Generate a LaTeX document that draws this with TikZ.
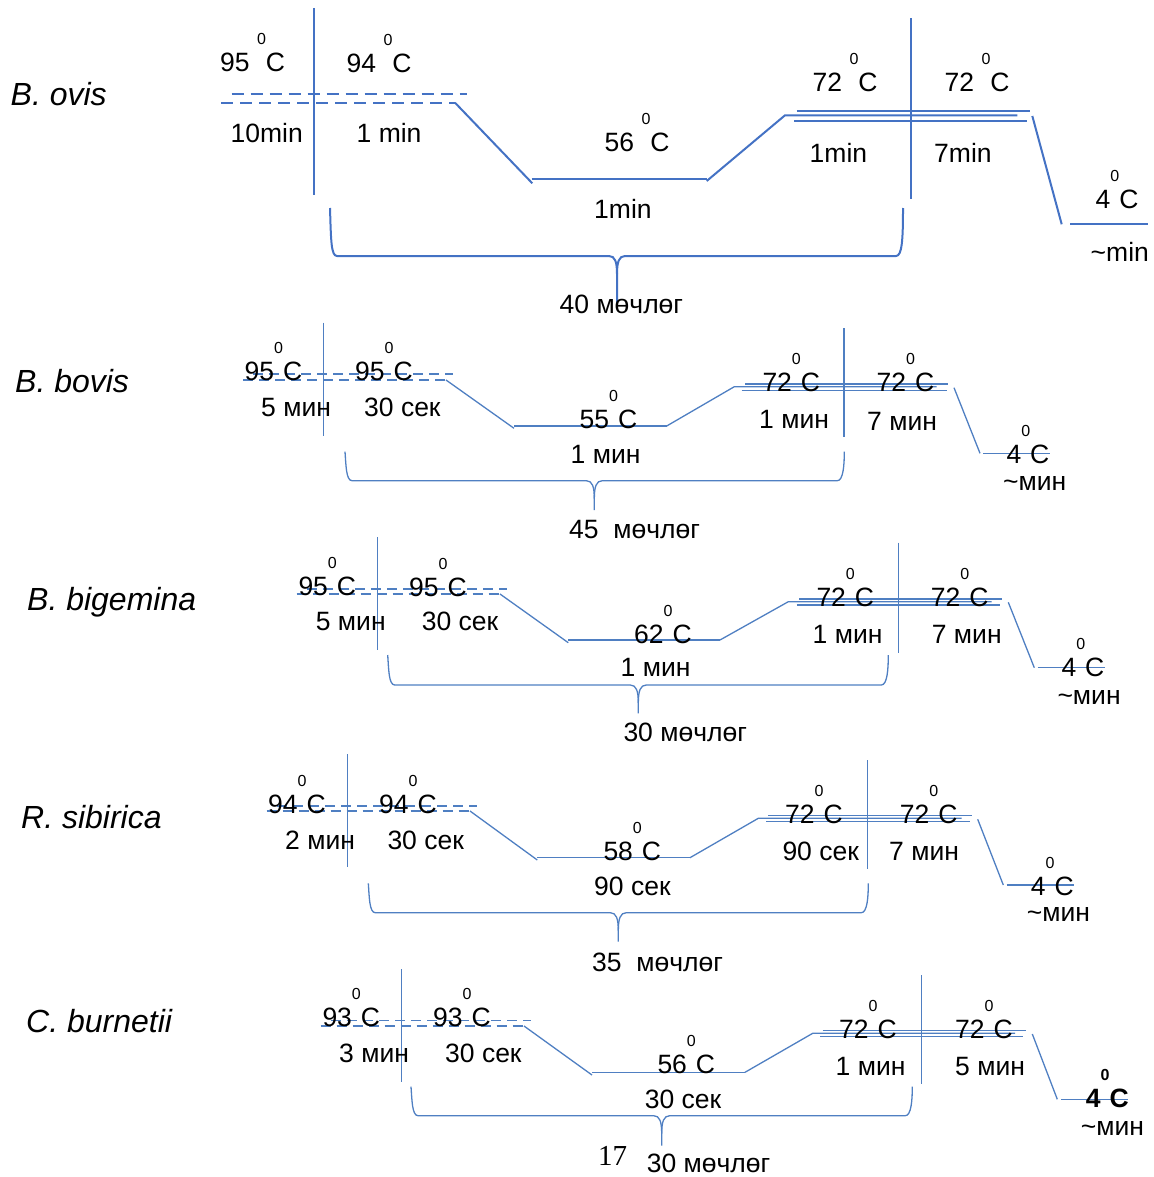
\documentclass[tikz,border=0pt]{standalone}
\usepackage{fontspec}
\setmainfont{Liberation Sans}
\newfontfamily\serifnum{Liberation Serif}
\definecolor{lineA}{HTML}{4472C4}
\definecolor{lineB}{HTML}{4F7FC2}
\newcommand\fs{\fontsize{26.5}{26.5}\selectfont}
\newcommand\spf{\fontsize{32}{32}\selectfont\itshape}
\newcommand\dg{\raisebox{27pt}{\fontsize{16}{16}\selectfont 0}}
\newcommand\tld{\char"7E}
\newcommand\mybrace[6]{%
  \draw (#1,#3) .. controls (#1+1,#4-16) and (#1+1,#4) .. (#1+7,#4) -- (#5-8,#4)
     .. controls (#5-2,#4) and (#5,#4+6) .. (#5,#4+18) -- (#5,#6);
  \draw (#5,#4+18) .. controls (#5,#4+6) and (#5+2,#4) .. (#5+8,#4) -- (#2-7,#4)
     .. controls (#2-1,#4) and (#2,#4-16) .. (#2,#3);}
\tikzset{
  lab/.style={anchor=base west, inner sep=0pt, font=\fs},
  spc/.style={anchor=base west, inner sep=0pt, font=\spf},
  pA/.style={draw=lineA, line width=2pt},
  pB/.style={draw=lineB, line width=1.3pt},
  dA/.style={dash pattern=on 12pt off 7pt},
  dB/.style={dash pattern=on 10pt off 6pt},
}
\begin{document}
\begin{tikzpicture}[x=1pt,y=-1pt]
\useasboundingbox (0,0) rectangle (1153,1177);

% ===== Panel 1: B. ovis =====
\begin{scope}[pA]
\draw (314,8) -- (314,195);
\draw[dA] (231.7,94.3) -- (466.7,94.3);
\draw[dA] (221,102.7) -- (455,102.7);
\draw (455,102.7) -- (532.3,183.3);
\draw (531.7,179.3) -- (706.7,179.3);
\draw (706.7,181) -- (785,115.3) -- (1017.3,115.3);
\draw (796.7,110.7) -- (1030,110.7);
\draw (794,120.7) -- (1027.3,120.7);
\draw (910.7,18.3) -- (910.7,199);
\draw (1032.3,116) -- (1061.7,224.3);
\draw (1070,224) -- (1148,224);
\mybrace{330}{903}{208}{256}{617}{303}
\end{scope}
\node[spc] (s1) at (10.5,106) {B. ovis};
\node[lab] (a1) at (220,72) {95\ \dg C};
\node[lab] (a2) at (346.5,72.7) {94\ \dg C};
\node[lab] (a3) at (230.5,142.7) {10min};
\node[lab] (a4) at (356.5,142.7) {1 min};
\node[lab] (a5) at (604.5,151.7) {56\ \dg C};
\node[lab] (a6) at (594,218.3) {1min};
\node[lab] (a7) at (559.5,313.3) {40 мөчлөг};
\node[lab] (a8) at (812.5,91.7) {72\ \dg C};
\node[lab] (a9) at (944.5,91.7) {72\ \dg C};
\node[lab] (a10) at (809.5,162.3) {1min};
\node[lab] (a11) at (934,162.3) {7min};
\node[lab] (a12) at (1095.5,208.3) {4\dg C};
\node[lab] (a13) at (1090.5,261.7) {\tld min};

% ===== Panel 2: B. bovis =====
\begin{scope}[pB]
\draw (323.7,322.7) -- (323.7,435.7);
\draw[dB] (253,374) -- (453.3,374);
\draw[dB] (243.3,380) -- (446,380);
\draw (446,380) -- (514,428.3);
\draw (514,426) -- (666.7,426);
\draw (666.7,426) -- (734.3,386.7) -- (936.7,386.7);
\draw (745,384) -- (948.3,384);
\draw (741.7,390.3) -- (946.7,390.3);
\draw (844,328.3) -- (844,437.3);
\draw (954,387.7) -- (980,453.3);
\draw (983.3,453.3) -- (1050,453.3);
\mybrace{345}{844.3}{451.7}{480.7}{594.3}{510}
\end{scope}
\node[spc] (s2) at (15,392) {B. bovis};
\node[lab] (b1) at (244.5,380.7) {95\dg C};
\node[lab] (b2) at (355,380.7) {95\dg C};
\node[lab] (b3) at (261,416.7) {5 мин};
\node[lab] (b4) at (364,416.7) {30 сек};
\node[lab] (b5) at (579.5,428.3) {55\dg C};
\node[lab] (b6) at (570.5,463.3) {1 мин};
\node[lab] (b7) at (569,538.3) {45\ \ мөчлөг};
\node[lab] (b8) at (762.3,391.7) {72\dg C};
\node[lab] (b9) at (876.5,391.7) {72\dg C};
\node[lab] (b10) at (759,428.3) {1 мин};
\node[lab] (b11) at (867,430) {7 мин};
\node[lab] (b12) at (1006.3,463.3) {4\dg C};
\node[lab] (b13) at (1003,490) {\tld мин};

% ===== Panel 3: B. bigemina =====
\begin{scope}[pB]
\draw (377.7,537) -- (377.7,650);
\draw[dB] (307,589) -- (506.7,589);
\draw[dB] (296.7,594) -- (500,594);
\draw (500,594) -- (568.3,642.7);
\draw (568.3,640) -- (720,640);
\draw (720,640) -- (788.3,601.7) -- (991.7,601.7);
\draw (799.3,599) -- (1001.7,599);
\draw (796.7,605) -- (1000,605);
\draw (898.3,542.7) -- (898.3,652.7);
\draw (1008.3,602.3) -- (1034.3,667.7);
\draw (1037.7,667.3) -- (1105,667.3);
\mybrace{387.7}{888.3}{655}{685}{638.3}{713.3}
\end{scope}
\node[spc] (s3) at (27,610) {B. bigemina};
\node[lab] (c1) at (298.3,595) {95\dg C};
\node[lab] (c2) at (409,596.7) {95\dg C};
\node[lab] (c3) at (315.7,630.7) {5 мин};
\node[lab] (c4) at (421.7,630.7) {30 сек};
\node[lab] (c5) at (634,643.3) {62\dg C};
\node[lab] (c6) at (620.5,676.7) {1 мин};
\node[lab] (c7) at (623.3,741.7) {30 мөчлөг};
\node[lab] (c8) at (816.3,606.7) {72\dg C};
\node[lab] (c9) at (930.7,606.7) {72\dg C};
\node[lab] (c10) at (812.5,643.3) {1 мин};
\node[lab] (c11) at (931.7,643.3) {7 мин};
\node[lab] (c12) at (1061.3,676) {4\dg C};
\node[lab] (c13) at (1057.3,704) {\tld мин};

% ===== Panel 4: R. sibirica =====
\begin{scope}[pB]
\draw (347.7,754) -- (347.7,867.3);
\draw[dB] (277,806) -- (476.7,806);
\draw[dB] (266.7,811) -- (470,811);
\draw (470,811) -- (537.3,860);
\draw (537.3,857.7) -- (690,857.7);
\draw (690,857.7) -- (758.3,818.3) -- (961.7,818.3);
\draw (768.3,815.7) -- (971.7,815.7);
\draw (766,821.7) -- (970,821.7);
\draw (867.7,760) -- (867.7,869);
\draw (977.7,819.3) -- (1003.3,885);
\draw (1006.7,885) -- (1074.3,885);
\mybrace{368.3}{868.3}{883.3}{912.7}{618.3}{941.7}
\end{scope}
\node[spc] (s4) at (21,828) {R. sibirica};
\node[lab] (d1) at (268,813.3) {94\dg C};
\node[lab] (d2) at (379,813.3) {94\dg C};
\node[lab] (d3) at (285,849.3) {2 мин};
\node[lab] (d4) at (387.3,849.3) {30 сек};
\node[lab] (d5) at (603.3,860) {58\dg C};
\node[lab] (d6) at (594,895) {90 сек};
\node[lab] (d7) at (592,971) {35\ \ мөчлөг};
\node[lab] (d8) at (785,823.3) {72\dg C};
\node[lab] (d9) at (899.7,823.3) {72\dg C};
\node[lab] (d10) at (782.3,860) {90 сек};
\node[lab] (d11) at (889,860) {7 мин};
\node[lab] (d12) at (1030.7,895) {4\dg C};
\node[lab] (d13) at (1026.7,921) {\tld мин};

% ===== Panel 5: C. burnetii =====
\begin{scope}[pB]
\draw (401.7,969.3) -- (401.7,1082.3);
\draw[dB] (331,1020.7) -- (531,1020.7);
\draw[dB] (320.7,1026) -- (524,1026);
\draw (524,1026) -- (592,1075);
\draw (592,1072.3) -- (745,1072.3);
\draw (745,1072.3) -- (812.7,1033.3) -- (1015,1033.3);
\draw (822.7,1030.7) -- (1026,1030.7);
\draw (820,1036.7) -- (1023.3,1036.7);
\draw (921.7,975) -- (921.7,1084);
\draw (1032.3,1034) -- (1057.3,1099.3);
\draw (1061,1099.3) -- (1128.3,1099.3);
\mybrace{411}{912.3}{1086.7}{1115.7}{661.7}{1145.7}
\end{scope}
\node[spc] (s5) at (26,1032) {C. burnetii};
\node[lab] (e1) at (322.3,1026.7) {93\dg C};
\node[lab] (e2) at (433,1026.7) {93\dg C};
\node[lab] (e3) at (339,1062.3) {3 мин};
\node[lab] (e4) at (445,1062.3) {30 сек};
\node[lab] (e5) at (657.3,1073.3) {56\dg C};
\node[lab] (e6) at (644.7,1108.3) {30 сек};
\node[lab] (e7) at (646.7,1172) {30 мөчлөг};
\node[lab] (e8) at (839,1038.3) {72\dg C};
\node[lab] (e9) at (955,1038.3) {72\dg C};
\node[lab] (e10) at (835.5,1075) {1 мин};
\node[lab] (e11) at (955,1075) {5 мин};
\node[lab,font=\fs\bfseries] (e12) at (1085.7,1107.7) {4\dg C};
\node[lab] (e13) at (1080.7,1135) {\tld мин};
\node[anchor=base west, inner sep=0pt, font=\serifnum\fontsize{29}{29}\selectfont] (pg) at (598,1165) {17};
\end{tikzpicture}
\end{document}
